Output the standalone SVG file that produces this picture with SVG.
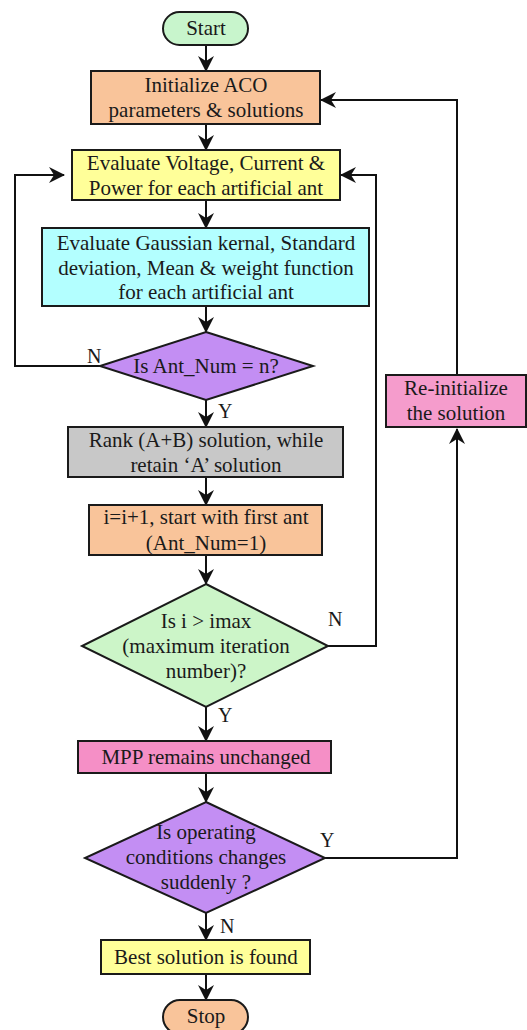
<svg xmlns="http://www.w3.org/2000/svg" width="527" height="1030" viewBox="0 0 527 1030">
  <style>
    .shape { stroke: #1a1a1a; stroke-width: 2; }
    .lbl { font-family: "Liberation Serif", "Times New Roman", serif; font-size: 21px; fill: #1a1a1a; text-anchor: middle; dominant-baseline: central; }
    .yn { font-family: "Liberation Serif", "Times New Roman", serif; font-size: 20px; fill: #1a1a1a; dominant-baseline: central; }
    .wire { fill: none; stroke: #111; stroke-width: 2; }
  </style>
  <defs>
    <marker id="arrow" viewBox="0 0 16 16" refX="15" refY="8" markerWidth="16" markerHeight="16" markerUnits="userSpaceOnUse" orient="auto">
      <path d="M0,0 L16,8 L0,16 L5,8 Z" fill="#111"/>
    </marker>
  </defs>
  <rect width="527" height="1030" fill="#ffffff"/>

  <!-- connectors -->
  <g id="connectors">
    <line class="wire" x1="206" y1="45" x2="206" y2="71" marker-end="url(#arrow)"/>
    <line class="wire" x1="206" y1="124" x2="206" y2="150" marker-end="url(#arrow)"/>
    <line class="wire" x1="206" y1="200" x2="206" y2="228" marker-end="url(#arrow)"/>
    <line class="wire" x1="206" y1="306" x2="206" y2="332" marker-end="url(#arrow)"/>
    <line class="wire" x1="206" y1="400" x2="206" y2="427" marker-end="url(#arrow)"/>
    <line class="wire" x1="206" y1="477" x2="206" y2="505" marker-end="url(#arrow)"/>
    <line class="wire" x1="206" y1="555" x2="206" y2="584" marker-end="url(#arrow)"/>
    <line class="wire" x1="206" y1="707" x2="206" y2="741" marker-end="url(#arrow)"/>
    <line class="wire" x1="206" y1="773" x2="206" y2="802" marker-end="url(#arrow)"/>
    <line class="wire" x1="206" y1="913" x2="206" y2="940" marker-end="url(#arrow)"/>
    <line class="wire" x1="206" y1="974" x2="206" y2="1000" marker-end="url(#arrow)"/>
    <!-- N: back to evaluate (left loop) -->
    <polyline class="wire" points="100,366 15,366 15,175 64,175" marker-end="url(#arrow)"/>
    <!-- N: next iteration (right loop) -->
    <polyline class="wire" points="328,646 376,646 376,175 341,175" marker-end="url(#arrow)"/>
    <!-- Y: conditions changed -->
    <polyline class="wire" points="325,858 457,858 457,429" marker-end="url(#arrow)"/>
    <polyline class="wire" points="457,375 457,100 321,100" marker-end="url(#arrow)"/>
    <text class="yn" x="87" y="356">N</text>
    <text class="yn" x="218" y="411">Y</text>
    <text class="yn" x="328" y="619">N</text>
    <text class="yn" x="218" y="715">Y</text>
    <text class="yn" x="320" y="840">Y</text>
    <text class="yn" x="220" y="926">N</text>
  </g>

  <g id="start">
    <rect class="shape" x="163" y="12" width="85" height="33" rx="16.5" fill="#c8f5cc"/>
    <text class="lbl" x="206" y="28">Start</text>
  </g>

  <g id="init">
    <rect class="shape" x="91" y="71" width="229" height="53" fill="#f9c49a"/>
    <text class="lbl" x="206" y="85">Initialize ACO</text>
    <text class="lbl" x="206" y="110">parameters &amp; solutions</text>
  </g>

  <g id="evaluate">
    <rect class="shape" x="72" y="150" width="268" height="50" fill="#ffff99"/>
    <text class="lbl" x="206" y="163">Evaluate Voltage, Current &amp;</text>
    <text class="lbl" x="206" y="188">Power for each artificial ant</text>
  </g>

  <g id="gaussian">
    <rect class="shape" x="42" y="228" width="327" height="78" fill="#b3ffff"/>
    <text class="lbl" x="206" y="243">Evaluate Gaussian kernal, Standard</text>
    <text class="lbl" x="206" y="268">deviation, Mean &amp; weight function</text>
    <text class="lbl" x="206" y="292">for each artificial ant</text>
  </g>

  <g id="ant-check">
    <polygon class="shape" points="206,332 313,366 206,400 100,366" fill="#c38ef3"/>
    <text class="lbl" x="206" y="366">Is Ant_Num = n?</text>
  </g>

  <g id="rank">
    <rect class="shape" x="68" y="427" width="275" height="50" fill="#c8c8c8"/>
    <text class="lbl" x="206" y="440">Rank (A+B) solution, while</text>
    <text class="lbl" x="206" y="465">retain ‘A’ solution</text>
  </g>

  <g id="increment">
    <rect class="shape" x="89" y="505" width="233" height="50" fill="#f9c49a"/>
    <text class="lbl" x="206" y="517">i=i+1, start with first ant</text>
    <text class="lbl" x="206" y="543">(Ant_Num=1)</text>
  </g>

  <g id="iter-check">
    <polygon class="shape" points="206,584 328,646 206,707 82,646" fill="#ccf5c8"/>
    <text class="lbl" x="206" y="621">Is i &gt; imax</text>
    <text class="lbl" x="206" y="646">(maximum iteration</text>
    <text class="lbl" x="206" y="671">number)?</text>
  </g>

  <g id="mpp">
    <rect class="shape" x="78" y="741" width="253" height="32" fill="#f58fc6"/>
    <text class="lbl" x="206" y="757">MPP remains unchanged</text>
  </g>

  <g id="condition-check">
    <polygon class="shape" points="206,802 325,858 206,913 85,858" fill="#c38ef3"/>
    <text class="lbl" x="206" y="832">Is operating</text>
    <text class="lbl" x="206" y="857">conditions changes</text>
    <text class="lbl" x="206" y="882">suddenly ?</text>
  </g>

  <g id="reinit">
    <rect class="shape" x="386" y="375" width="140" height="52" fill="#f59ccc"/>
    <text class="lbl" x="456" y="388">Re-initialize</text>
    <text class="lbl" x="456" y="413">the solution</text>
  </g>

  <g id="best">
    <rect class="shape" x="101" y="940" width="209" height="34" fill="#ffff99"/>
    <text class="lbl" x="206" y="957">Best solution is found</text>
  </g>

  <g id="stop">
    <rect class="shape" x="163" y="1000" width="85" height="34" rx="17" fill="#f9c49a"/>
    <text class="lbl" x="206" y="1016">Stop</text>
  </g>
</svg>
